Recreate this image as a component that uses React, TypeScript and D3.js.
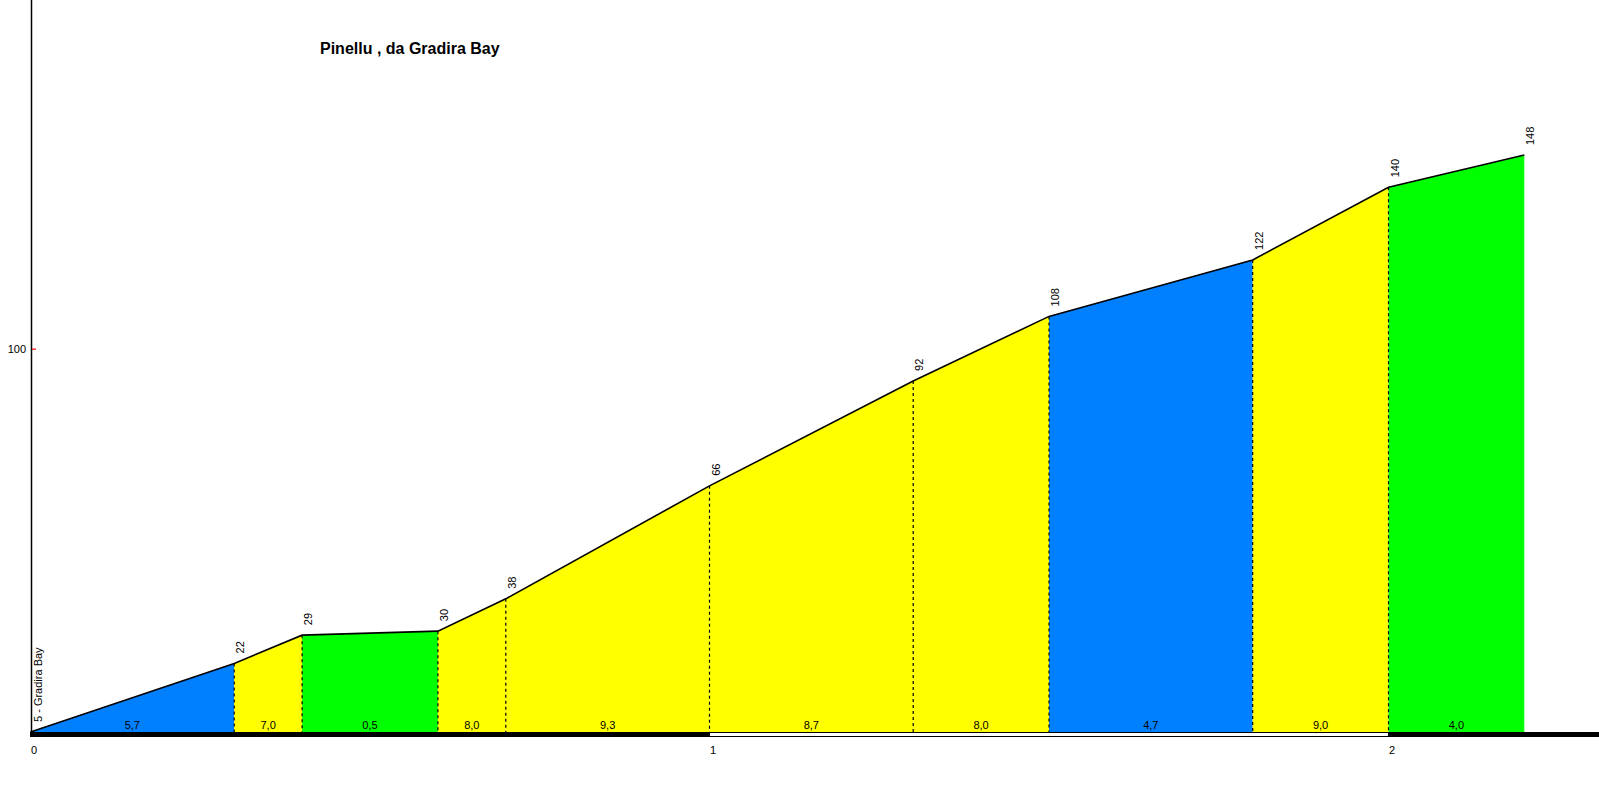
import React from "react";
import * as d3 from "d3";

const title = "Pinellu , da Gradira Bay";
const startName = "Gradira Bay";
const distancesKm = [0, 0.3, 0.4, 0.6, 0.7, 1.0, 1.3, 1.5, 1.8, 2.0, 2.2];
const elevations = [5, 22, 29, 30, 38, 66, 92, 108, 122, 140, 148];
const gradients = [5.7, 7.0, 0.5, 8.0, 9.3, 8.7, 8.0, 4.7, 9.0, 4.0];
const xTicks = [0, 1, 2];
const yTicks = [100];
const kmBands = [0, 1, 2];

const W = 1599;
const H = 800;
const FONT = "'Liberation Sans', Arial, sans-serif";

function gradColor(g: number): string {
  if (g <= 4.2) return "#00FF00";
  if (g <= 6) return "#0080FF";
  return "#FFFF00";
}

export default function App() {
  const x = d3.scaleLinear().domain([0, 1]).range([30.5, 709.5]);
  const y = d3.scaleLinear().domain([5, 148]).range([732, 155]);
  const base = y(5);
  const barH = 5;

  const pts = distancesKm.map((d, i) => [x(d), y(elevations[i])] as [number, number]);
  const line = d3.line()(pts) || "";

  return (
    <div style={{ position: "absolute", left: 0, top: 0, width: W, height: H, background: "#fff" }}>
      <svg width={W} height={H} style={{ display: "block" }}>
        <rect x={0} y={0} width={W} height={H} fill="#fff" />
        {gradients.map((g, i) => {
          const p = [
            [x(distancesKm[i]), base],
            [x(distancesKm[i]), y(elevations[i])],
            [x(distancesKm[i + 1]), y(elevations[i + 1])],
            [x(distancesKm[i + 1]), base],
          ] as [number, number][];
          return <path key={"s" + i} d={(d3.line()(p) || "") + "Z"} fill={gradColor(g)} stroke="none" />;
        })}
        {distancesKm.slice(1, -1).map((d, i) => (
          <line
            key={"v" + i}
            x1={x(d)}
            x2={x(d)}
            y1={y(elevations[i + 1])}
            y2={base}
            stroke="#000"
            strokeWidth={1.2}
            strokeDasharray="3,3"
          />
        ))}
        <path d={line} fill="none" stroke="#000" strokeWidth={1.6} />
        {gradients.map((g, i) => (
          <text
            key={"g" + i}
            x={(x(distancesKm[i]) + x(distancesKm[i + 1])) / 2}
            y={base - 3}
            textAnchor="middle"
            fontFamily={FONT}
            fontSize={11}
            fill="#000"
          >
            {g.toFixed(1).replace(".", ",")}
          </text>
        ))}
        {distancesKm.map((d, i) => {
          const px = x(d) + (i === 0 ? 11 : 10);
          const py = y(elevations[i]) - 10;
          return (
            <text
              key={"e" + i}
              transform={`translate(${px},${py}) rotate(-90)`}
              fontFamily={FONT}
              fontSize={11}
              fill="#000"
            >
              {i === 0 ? `${elevations[i]} - ${startName}` : elevations[i]}
            </text>
          );
        })}
        {kmBands.map((k, i) => (
          <rect
            key={"b" + k}
            x={x(k)}
            y={base + 0.5}
            width={x(k + 1) - x(k)}
            height={barH - 1}
            fill={i % 2 === 0 ? "#000" : "#fff"}
            stroke="#000"
            strokeWidth={1}
          />
        ))}
        <line x1={31.5} x2={31.5} y1={0} y2={base + barH} stroke="#000" strokeWidth={1.5} />
        {yTicks.map((t) => (
          <g key={"yt" + t}>
            <line x1={32} x2={36} y1={y(t) + 0.5} y2={y(t) + 0.5} stroke="#ff0000" strokeWidth={1.2} />
            <text x={26} y={y(t) + 4} textAnchor="end" fontFamily={FONT} fontSize={11} fill="#000">
              {t}
            </text>
          </g>
        ))}
        {xTicks.map((t) => (
          <text key={"xt" + t} x={x(t) + 0.5} y={754} fontFamily={FONT} fontSize={11} fill="#000">
            {t}
          </text>
        ))}
        <text x={320} y={54} fontFamily={FONT} fontSize={16} fontWeight="bold" fill="#000">
          {title}
        </text>
      </svg>
    </div>
  );
}
